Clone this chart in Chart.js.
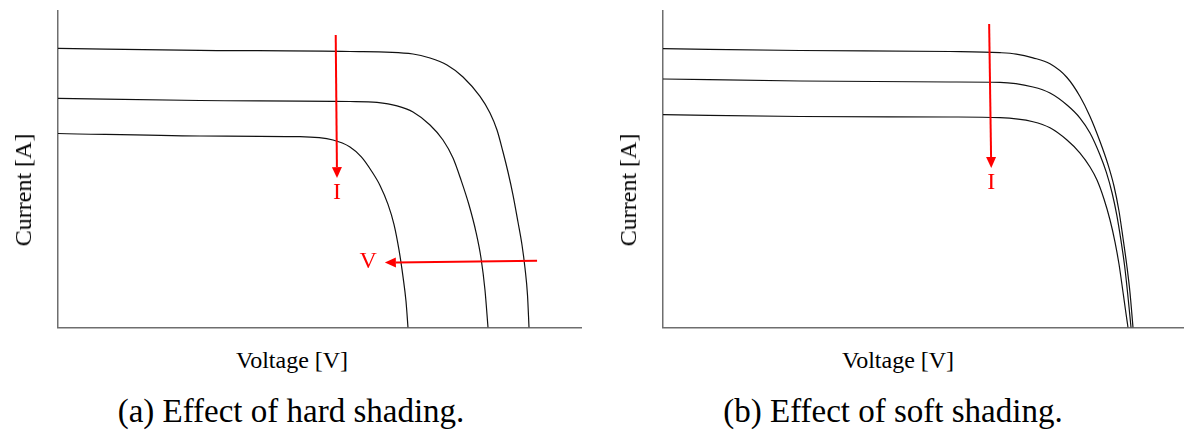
<!DOCTYPE html>
<html>
<head>
<meta charset="utf-8">
<title>I-V curves under shading</title>
<script src="https://cdn.jsdelivr.net/npm/chart.js@4.4.1/dist/chart.umd.min.js"></script>
<style>
  body { margin: 0; background: #fff; }
  #page { position: relative; width: 1184px; height: 430px; overflow: hidden; font-family: 'Liberation Serif', serif; color: #000; }
  canvas { position: absolute; top: 0; }
  .label { position: absolute; white-space: nowrap; line-height: 1; transform: translate(-50%, -50%); }
  .ytitle { transform: translate(-50%, -50%) rotate(-90deg); }
  .axis { font-size: 24px; }
  .caption { font-size: 33px; }
</style>
</head>
<body>
<div id="page">
  <canvas id="hard" width="592" height="340" style="left:0"></canvas>
  <canvas id="soft" width="579" height="340" style="left:605px"></canvas>
  <div class="label axis ytitle" style="left:23px; top:190px">Current [A]</div>
  <div class="label axis ytitle" style="left:628px; top:190px">Current [A]</div>
  <div class="label axis" style="left:292px; top:360px">Voltage [V]</div>
  <div class="label axis" style="left:898px; top:360px">Voltage [V]</div>
  <div class="label caption" style="left:291px; top:411px">(a) Effect of hard shading.</div>
  <div class="label caption" style="left:893px; top:411px">(b) Effect of soft shading.</div>
</div>
<script>
'use strict';

// (a) hard shading: voltage / current (arbitrary units, 0..100)
const hardFullV = [0, 27.15, 55.83, 67.88, 71.13, 74.38, 77.44, 80.69, 82.6, 83.94, 85.09, 86.04, 87.0, 87.95, 88.72, 89.29, 89.77, 90.06];
const hardFullI = [88.2, 87.58, 87.2, 86.41, 85.15, 82.94, 79.15, 73.0, 67.77, 62.4, 55.45, 49.13, 41.86, 33.33, 26.07, 18.8, 10.27, 0];
const hardMidV = [0, 27.15, 55.83, 61.0, 64.82, 67.88, 71.13, 73.61, 75.53, 77.06, 78.59, 79.92, 80.88, 81.64, 82.22];
const hardMidI = [72.42, 71.72, 71.41, 71.1, 70.0, 68.09, 63.98, 59.24, 53.55, 46.6, 38.7, 30.17, 21.96, 11.85, 0];
const hardLowV = [0, 27.15, 46.27, 52.58, 55.83, 58.0, 60.0, 61.57, 63.1, 64.24, 65.2, 65.97, 66.54, 66.92];
const hardLowI = [61.3, 60.51, 60.28, 59.24, 57.03, 53.9, 49.3, 44.9, 38.9, 32.6, 24.5, 16.0, 8.3, 0];

// (b) soft shading
const softFullV = [0, 26.3, 55.09, 64.68, 67.8, 71.02, 74.28, 77.54, 80.04, 81.96, 83.88, 85.41, 86.56, 87.52, 88.29, 89.06, 89.64, 90.21];
const softFullI = [88.09, 87.52, 87.2, 86.83, 86.4, 85.2, 83.3, 78.99, 72.99, 66.67, 58.77, 51.5, 44.71, 36.81, 28.28, 19.12, 10.9, 0];
const softMidV = [0, 26.3, 55.09, 64.68, 71.02, 74.28, 77.54, 80.04, 81.96, 83.88, 85.1, 86.2, 87.1, 87.9, 88.6, 89.2, 89.83];
const softMidI = [78.52, 77.88, 77.57, 77.47, 75.99, 74.09, 70.3, 66.19, 61.45, 54.5, 49.0, 42.5, 35.5, 27.5, 19.5, 10.5, 0];
const softLowV = [0, 26.3, 55.09, 64.68, 71.02, 74.28, 77.54, 80.04, 81.96, 83.3, 84.64, 85.8, 86.76, 87.52, 88.29, 88.77, 89.25];
const softLowI = [67.23, 66.67, 66.51, 66.29, 65.02, 63.1, 59.24, 55.13, 50.71, 46.6, 40.6, 33.97, 27.01, 20.06, 11.22, 5.53, 0];

// red annotation arrows, in the same data units
const hardArrows = [
    { from: [53.1, 92.4], to: [53.35, 47.2], label: 'I', at: [53.35, 42.5] },
    { from: [91.6, 21.1], to: [62.5, 20.5], label: 'V', at: [59.3, 20.7] },
];
const softArrows = [
    { from: [62.6, 95.9], to: [63.0, 50.4], label: 'I', at: [63.0, 45.7] },
];

function to_points(vs, is) {
    return vs.map((v, k) => ({ x: v, y: is[k] }));
}

const arrowPlugin = {
    id: 'arrows',
    afterDatasetsDraw(chart, _args, opts) {
        const { ctx, scales: { x, y } } = chart;
        ctx.save();
        ctx.strokeStyle = opts.color;
        ctx.fillStyle = opts.color;
        ctx.lineWidth = 2;
        opts.items.forEach((a) => {
            const x0 = x.getPixelForValue(a.from[0]), y0 = y.getPixelForValue(a.from[1]);
            const x1 = x.getPixelForValue(a.to[0]), y1 = y.getPixelForValue(a.to[1]);
            const ang = Math.atan2(y1 - y0, x1 - x0);
            const head = 11, half = 5;
            const bx = x1 - head * Math.cos(ang), by = y1 - head * Math.sin(ang);
            ctx.beginPath();
            ctx.moveTo(x0, y0);
            ctx.lineTo(bx, by);
            ctx.stroke();
            ctx.beginPath();
            ctx.moveTo(x1, y1);
            ctx.lineTo(bx + half * Math.sin(ang), by - half * Math.cos(ang));
            ctx.lineTo(bx - half * Math.sin(ang), by + half * Math.cos(ang));
            ctx.closePath();
            ctx.fill();
            ctx.font = '24px "Liberation Serif"';
            ctx.textAlign = 'center';
            ctx.textBaseline = 'middle';
            ctx.fillText(a.label, x.getPixelForValue(a.at[0]), y.getPixelForValue(a.at[1]));
        });
        ctx.restore();
    }
};

function make_chart(id, curves, arrows, padRight) {
    const axis = (fit) => ({
        type: 'linear',
        min: 0,
        max: 100,
        grid: { display: false },
        ticks: { display: false },
        border: { display: true, color: '#6e6e6e', width: 1.5 },
        afterFit: fit,
    });
    new Chart(document.getElementById(id).getContext('2d'), {
        type: 'scatter',
        data: {
            datasets: curves.map((c) => ({
                data: to_points(c[0], c[1]),
                showLine: true,
                borderColor: '#111',
                borderWidth: 1.2,
                pointRadius: 0,
                cubicInterpolationMode: 'monotone',
            }))
        },
        options: {
            responsive: false,
            animation: false,
            events: [],
            layout: { padding: { top: 11, right: padRight, bottom: 0, left: 0 } },
            plugins: {
                legend: { display: false },
                tooltip: { enabled: false },
                arrows: { items: arrows, color: '#f00' },
            },
            scales: {
                x: axis((s) => { s.height = 12.5; }),
                y: axis((s) => { s.width = 58; }),
            }
        },
        plugins: [arrowPlugin],
    });
}

make_chart('hard', [[hardFullV, hardFullI], [hardMidV, hardMidI], [hardLowV, hardLowI]], hardArrows, 11);
make_chart('soft', [[softFullV, softFullI], [softMidV, softMidI], [softLowV, softLowI]], softArrows, 0);
</script>
</body>
</html>
